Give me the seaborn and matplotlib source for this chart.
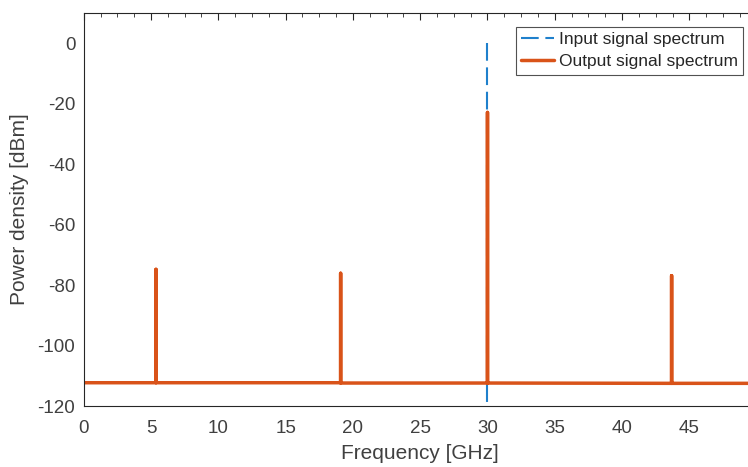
import numpy as np
import pandas as pd
import seaborn as sns
import matplotlib
matplotlib.use("Agg")
import matplotlib.pyplot as plt
from matplotlib.ticker import MultipleLocator

# output spectrum: noise floor with four spurs / tones (freq GHz, dBm)
out_freq = [0.0, 5.37, 5.37, 5.37, 19.09, 19.09, 19.09, 30.0, 30.0, 30.0, 43.68, 43.68, 43.68, 50.0]
out_level = [-112.3, -112.3, -74.8, -112.3, -112.3, -76.1, -112.4, -112.4, -22.9, -112.4, -112.5, -76.9, -112.5, -112.5]

# input spectrum: single tone at 30 GHz, floor far below the visible range
in_freq = [30.0, 30.0, 50.0]
in_level = [0.0, -160.0, -160.0]

sns.set_theme(style="white")
plt.rcParams["font.family"] = ["Liberation Sans", "DejaVu Sans"]
plt.rcParams["axes.unicode_minus"] = False

df_out = pd.DataFrame({"freq": out_freq, "level": out_level})
df_in = pd.DataFrame({"freq": in_freq, "level": in_level})

fig = plt.figure(figsize=(7.48, 4.67), dpi=100)
# axes runs slightly past the right edge of the figure (cropped, as in the reference)
ax = fig.add_axes([0.1119, 0.1306, 0.8997, 0.8416])

sns.lineplot(x="freq", y="level", data=df_in, sort=False, estimator=None, ax=ax,
             color="#1f80cc", linewidth=1.5, linestyle=(0, (8.5, 3.2)), label="Input signal spectrum")
sns.lineplot(x="freq", y="level", data=df_out, sort=False, estimator=None, ax=ax,
             color="#D95319", linewidth=2.5, label="Output signal spectrum")

ax.set_xlim(0, 50)
ax.set_ylim(-120, 10)
ax.xaxis.set_major_locator(MultipleLocator(5))
ax.xaxis.set_minor_locator(MultipleLocator(1.25))
ax.yaxis.set_major_locator(MultipleLocator(20))
ax.yaxis.set_minor_locator(MultipleLocator(5))
ax.set_xticks([0, 5, 10, 15, 20, 25, 30, 35, 40, 45])

dark = "#262626"
txt = "#404040"
for s in ax.spines.values():
    s.set_color(dark)
    s.set_linewidth(0.8)
ax.tick_params(which="both", direction="in", top=True, right=True, colors=dark, labelsize=13.5)
ax.tick_params(which="major", length=5, width=0.8)
ax.tick_params(which="minor", length=3, width=0.6)
ax.tick_params(axis="x", pad=10)
ax.tick_params(axis="y", pad=6)
for lbl in ax.get_xticklabels() + ax.get_yticklabels():
    lbl.set_color(txt)

ax.set_xlabel("Frequency [GHz]", fontsize=15, color=txt, labelpad=5)
ax.set_ylabel("Power density [dBm]", fontsize=15, color=txt, labelpad=6)

leg = ax.legend(loc="upper right", fontsize=12.5, frameon=True, fancybox=False,
                edgecolor=dark, borderpad=0.3, labelspacing=0.4, handlelength=1.9,
                handletextpad=0.25, borderaxespad=0.8)
leg.get_frame().set_linewidth(0.8)
for t in leg.get_texts():
    t.set_color("#262626")

fig.savefig("out.png", dpi=100)
